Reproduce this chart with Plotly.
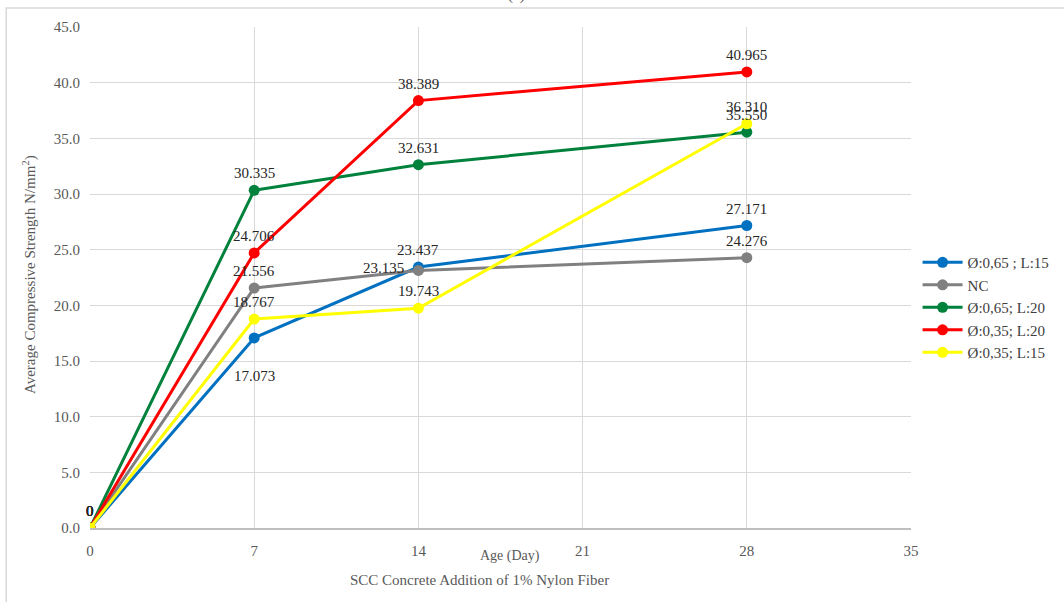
import plotly.graph_objects as go

# Curing age in days
ages = [0, 7, 14, 28]

# Average compressive strength (N/mm²) per mix
series_names = ["Ø:0,65 ; L:15", "NC", "Ø:0,65; L:20", "Ø:0,35; L:20", "Ø:0,35; L:15"]
phi065_l15 = [0, 17.073, 23.437, 27.171]
nc = [0, 21.556, 23.135, 24.276]
phi065_l20 = [0, 30.335, 32.631, 35.550]
phi035_l20 = [0, 24.706, 38.389, 40.965]
phi035_l15 = [0, 18.767, 19.743, 36.310]
series_values = [phi065_l15, nc, phi065_l20, phi035_l20, phi035_l15]
series_colors = ["#0070c0", "#808080", "#00813c", "#ff0000", "#ffff00"]

x_ticks = [0, 7, 14, 21, 28, 35]
y_ticks = [0, 5, 10, 15, 20, 25, 30, 35, 40, 45]

FONT = "Times New Roman"

fig = go.Figure()
for name, vals, col in zip(series_names, series_values, series_colors):
    fig.add_trace(go.Scatter(
        x=ages, y=vals, name=name, mode="lines+markers",
        line=dict(color=col, width=3),
        marker=dict(color=col, size=11),
    ))


def fmt(v):
    return "0" if v == 0 else f"{v:.3f}"


# Data labels: default above the point, a couple of offsets where labels crowd
offsets = {
    (0, 1): (0, -38),   # Ø:0,65 ; L:15 at day 7, below
    (1, 2): (-35, 2),   # NC at day 14, to the left
}
for si, (vals, col) in enumerate(zip(series_values, series_colors)):
    for pi, (a, v) in enumerate(zip(ages, vals)):
        xs, ys = offsets.get((si, pi), (0, 17))
        fig.add_annotation(
            x=a, y=v, text=fmt(v), showarrow=False,
            xshift=xs, yshift=ys,
            font=dict(family=FONT, size=15, color="#262626"),
        )

# Axis titles and chart caption
fig.add_annotation(
    x=0.512, y=-0.056, xref="paper", yref="paper", text="Age (Day)",
    xanchor="center", yanchor="middle",
    showarrow=False, font=dict(family=FONT, size=14, color="#595959"),
)
fig.add_annotation(
    x=0.474, y=-0.104, xref="paper", yref="paper",
    text="SCC Concrete Addition of 1% Nylon Fiber",
    xanchor="center", yanchor="middle",
    showarrow=False, font=dict(family=FONT, size=15, color="#595959"),
)
fig.add_annotation(
    x=-0.073, y=0.505, xref="paper", yref="paper",
    text="Average Compressive Strength N/mm<sup>2</sup>)", textangle=-90,
    xanchor="center", yanchor="middle",
    showarrow=False, font=dict(family=FONT, size=15, color="#595959"),
)
fig.add_annotation(
    x=0.52, y=1.042, xref="paper", yref="paper", text="(a)", yanchor="bottom",
    showarrow=False, font=dict(family=FONT, size=15, color="#595959"),
)

# Outer chart frame
fig.add_shape(
    type="rect", xref="paper", yref="paper",
    x0=-0.102, x1=1.3, y0=-0.2, y1=1.038,
    line=dict(color="#d9d9d9", width=1.5), fillcolor="rgba(0,0,0,0)", layer="below",
)

fig.update_xaxes(
    range=[0, 35], tickvals=x_ticks, ticktext=[str(t) for t in x_ticks],
    showgrid=True, gridcolor="#d9d9d9", gridwidth=1,
    zeroline=False, showline=True, linecolor="#bfbfbf", linewidth=2,
    ticks="outside", ticklen=8, tickcolor="rgba(0,0,0,0)",
    tickfont=dict(family=FONT, size=15, color="#595959"),
)
fig.update_yaxes(
    range=[0, 45], tickvals=y_ticks, ticktext=[f"{t:.1f}" for t in y_ticks],
    showgrid=True, gridcolor="#d9d9d9", gridwidth=1,
    zeroline=False, showline=False,
    ticks="outside", ticklen=6, tickcolor="rgba(0,0,0,0)",
    tickfont=dict(family=FONT, size=15, color="#595959"),
)

fig.update_layout(
    width=1064, height=602,
    margin=dict(l=90, r=153, t=27, b=74, autoexpand=False),
    paper_bgcolor="white", plot_bgcolor="white",
    showlegend=True,
    legend=dict(
        x=1.008, y=0.44, xanchor="left", yanchor="middle",
        font=dict(family=FONT, size=15, color="#404040"),
        tracegroupgap=0, itemwidth=40,
    ),
)

fig.write_html("out.html")
